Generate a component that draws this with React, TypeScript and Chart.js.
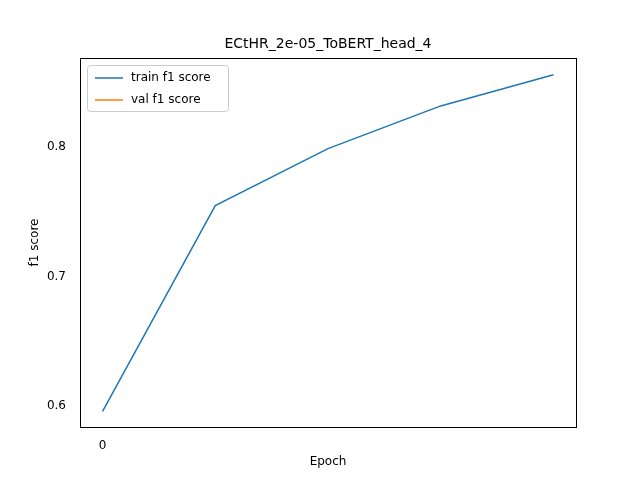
import React, { useEffect, useRef } from "react";
import { Chart, registerables } from "chart.js";
Chart.register(...registerables);

const epochs = [0, 1, 2, 3, 4];
const trainF1 = [0.596, 0.755, 0.799, 0.832, 0.856];
const valF1: number[] = [];
const xTicks = [0];
const yTicks = [0.6, 0.7, 0.8];
const title = "ECtHR_2e-05_ToBERT_head_4";

const font = "DejaVu Sans";

export default function App() {
  const ref = useRef<HTMLCanvasElement>(null);
  useEffect(() => {
    const deco = {
      id: "deco",
      afterDraw(c: any) {
        const ctx = c.ctx;
        const a = c.chartArea;
        ctx.save();
        ctx.strokeStyle = "#000";
        ctx.lineWidth = 1;
        ctx.strokeRect(Math.round(a.left) + 0.5, Math.round(a.top) + 0.5, Math.round(a.right - a.left), Math.round(a.bottom - a.top));
        ctx.fillStyle = "#000";
        ctx.textAlign = "center";
        ctx.textBaseline = "middle";
        ctx.font = `14px '${font}'`;
        ctx.fillText(title, (a.left + a.right) / 2, 44);
        ctx.font = `12px '${font}'`;
        ctx.fillText("Epoch", (a.left + a.right) / 2, 462);
        ctx.save();
        ctx.translate(35, (a.top + a.bottom) / 2);
        ctx.rotate(-Math.PI / 2);
        ctx.fillText("f1 score", 0, 0);
        ctx.restore();
        // legend
        const lx = a.left + 7, ly = a.top + 7;
        ctx.fillStyle = "rgba(255,255,255,0.8)";
        ctx.strokeStyle = "#ccc";
        ctx.beginPath();
        ctx.roundRect(lx + 0.5, ly + 0.5, 141, 46, 3);
        ctx.fill();
        ctx.stroke();
        const items = [["train f1 score", "#1f77b4"], ["val f1 score", "#ff7f0e"]];
        items.forEach(([t, col], i) => {
          const yy = ly + 13 + i * 22;
          ctx.strokeStyle = col;
          ctx.lineWidth = 1.5;
          ctx.beginPath();
          ctx.moveTo(lx + 8, yy);
          ctx.lineTo(lx + 36, yy);
          ctx.stroke();
          ctx.fillStyle = "#000";
          ctx.textAlign = "left";
          ctx.fillText(t, lx + 44, yy);
        });
        ctx.restore();
      },
    };
    const chart = new Chart(ref.current!, {
      type: "line",
      data: {
        datasets: [
          { label: "train f1 score", data: epochs.map((e, i) => ({ x: e, y: trainF1[i] })), borderColor: "#1f77b4", borderWidth: 1.5, pointRadius: 0, tension: 0 },
          { label: "val f1 score", data: valF1.map((v, i) => ({ x: epochs[i], y: v })), borderColor: "#ff7f0e", borderWidth: 1.5, pointRadius: 0 },
        ],
      },
      options: {
        animation: false,
        responsive: false,
        layout: { padding: { top: 58, right: 64, left: 0, bottom: 0 } },
        plugins: { legend: { display: false }, title: { display: false }, tooltip: { enabled: false } },
        scales: {
          x: {
            type: "linear", min: -0.2, max: 4.2,
            afterBuildTicks: (s: any) => { s.ticks = xTicks.map((v) => ({ value: v })); },
            afterFit: (s: any) => { s.height = 53; },
            grid: { display: false, drawTicks: true },
            border: { display: false },
            ticks: { color: "#000", font: { family: font, size: 12 }, padding: 4 },
          },
          y: {
            min: 0.584, max: 0.869,
            afterBuildTicks: (s: any) => { s.ticks = yTicks.map((v) => ({ value: v })); },
            afterFit: (s: any) => { s.width = 80; },
            grid: { display: false },
            border: { display: false },
            ticks: { color: "#000", font: { family: font, size: 12 }, padding: 6, callback: (v: any) => Number(v).toFixed(1) },
          },
        },
      },
      plugins: [deco],
    });
    return () => chart.destroy();
  }, []);
  return (
    <div style={{ position: "fixed", left: 0, top: 0, background: "#fff" }}>
      <canvas ref={ref} width={640} height={480} style={{ display: "block", width: 640, height: 480 }} />
    </div>
  );
}
